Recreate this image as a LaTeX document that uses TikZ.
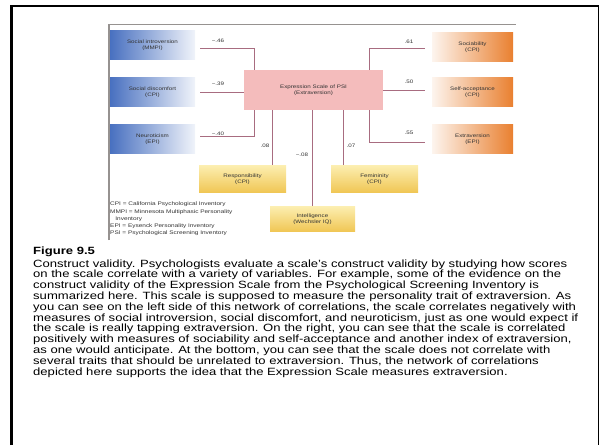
\documentclass[tikz,border=0pt]{standalone}
\usepackage{fontspec}
\newfontfamily\capfont{Liberation Sans}[FakeStretch=1.245]
\definecolor{linkred}{RGB}{168,108,128}
\definecolor{boxblue}{RGB}{72,112,192}
\definecolor{boxorange}{RGB}{233,128,48}
\definecolor{boxpink}{RGB}{244,188,188}
\definecolor{boxgold}{RGB}{240,198,84}
\definecolor{boxlight}{RGB}{252,238,176}
\definecolor{framegray}{RGB}{150,146,144}
\begin{document}
\begin{tikzpicture}[x = 1pt, y = -1pt,
	diag/.style = {inner sep = 0pt, align = center, text = black!80, font = \capfont\fontsize{5}{6.2}\selectfont},
	leftbox/.style = {diag, minimum width = 85pt, minimum height = 29pt, left color = boxblue, right color = boxblue!8},
	rightbox/.style = {diag, minimum width = 81pt, minimum height = 29pt, left color = boxorange!8, right color = boxorange},
	bottombox/.style = {diag, minimum width = 87pt, minimum height = 27pt, top color = boxlight, bottom color = boxgold},
	centerbox/.style = {diag, minimum width = 139pt, minimum height = 40pt, fill = boxpink},
	link/.style = {draw = linkred, line width = 0.8pt},
	corr/.style = {diag}]
	\useasboundingbox (0, 0) rectangle (600, 445);
	%Frame
	\draw[line width = 2.2pt] (11.5, 445) -- (11.5, 6) -- (599, 6);
	\draw[line width = 1pt] (598.5, 6) -- (598.5, 445);
	%Diagram border
	\draw[framegray, line width = 1.2pt] (109, 240) -- (109, 24.5) -- (516, 24.5);
	%Boxes
		%center
		\node[centerbox] (esp) at (313.5, 90) {Expression Scale of PSI\\(Extraversion)};
		%left
		\node[leftbox] (si) at (152.5, 45) {Social introversion\\(MMPI)};
		\node[leftbox] (sd) at (152.5, 92) {Social discomfort\\(CPI)};
		\node[leftbox] (neu) at (152.5, 139) {Neuroticism\\(EPI)};
		%right
		\node[rightbox] (soc) at (472.5, 47) {Sociability\\(CPI)};
		\node[rightbox] (sa) at (472.5, 92) {Self-acceptance\\(CPI)};
		\node[rightbox] (ext) at (472.5, 139) {Extraversion\\(EPI)};
		%bottom
		\node[bottombox] (resp) at (242.5, 179) {Responsibility\\(CPI)};
		\node[bottombox] (fem) at (374.5, 179) {Femininity\\(CPI)};
		\node[bottombox, minimum width = 85pt, minimum height = 25pt] (iq) at (312.5, 219) {Intelligence\\(Wechsler IQ)};
	%Links
	\draw[link, shorten <= 5pt] ([yshift = -3pt]si.east) -| ([xshift = -59.5pt]esp.north);
	\draw[link, shorten <= 5pt] (sd.east) -- (sd.east -| esp.west);
	\draw[link, shorten <= 5pt] ([yshift = 3pt]neu.east) -| ([xshift = -59.5pt]esp.south);
	\draw[link, shorten >= 7pt] ([xshift = 55.5pt]esp.north) |- ([yshift = -1pt]soc.west);
	\draw[link, shorten >= 7pt] (esp.east) -- (esp.east -| sa.west);
	\draw[link, shorten >= 7pt] ([xshift = 55.5pt]esp.south) |- ([yshift = -3pt]ext.west);
	\draw[link] ([xshift = -41.5pt]esp.south) -- ([xshift = -41.5pt]esp.south |- resp.north);
	\draw[link] (esp.south -| iq.north) -- (iq.north);
	\draw[link] ([xshift = 29.5pt]esp.south) -- ([xshift = 29.5pt]esp.south |- fem.north);
	%Correlations
	\node[corr] (c1) at (218, 41) {−.46};
	\node[corr] (c2) at (218, 84) {−.39};
	\node[corr] (c3) at (218, 134) {−.40};
	\node[corr] (c4) at (409, 42) {.61};
	\node[corr] (c5) at (409, 82) {.50};
	\node[corr] (c6) at (409, 133) {.55};
	\node[corr] (c7) at (265, 146) {.08};
	\node[corr] (c8) at (302, 155) {−.08};
	\node[corr] (c9) at (351, 146) {.07};
	%Legend
	\node[diag, anchor = north west, align = left, font = \capfont\fontsize{5.2}{7.2}\selectfont] (key) at (110, 202)
		{CPI = California Psychological Inventory\\MMPI = Minnesota Multiphasic Personality\\\quad Inventory\\EPI = Eysenck Personality Inventory\\PSI = Psychological Screening Inventory};
	%Caption
	\node[anchor = north west, align = left, inner sep = 0pt, font = \capfont\fontsize{10.5}{10.8}\selectfont] (cap) at (33, 246.5)
		{\textbf{Figure 9.5}\\[2pt]
		Construct validity. Psychologists evaluate a scale’s construct validity by studying how scores\\
		on the scale correlate with a variety of variables. For example, some of the evidence on the\\
		construct validity of the Expression Scale from the Psychological Screening Inventory is\\
		summarized here. This scale is supposed to measure the personality trait of extraversion. As\\
		you can see on the left side of this network of correlations, the scale correlates negatively with\\
		measures of social introversion, social discomfort, and neuroticism, just as one would expect if\\
		the scale is really tapping extraversion. On the right, you can see that the scale is correlated\\
		positively with measures of sociability and self-acceptance and another index of extraversion,\\
		as one would anticipate. At the bottom, you can see that the scale does not correlate with\\
		several traits that should be unrelated to extraversion. Thus, the network of correlations\\
		depicted here supports the idea that the Expression Scale measures extraversion.};
\end{tikzpicture}
\end{document}
